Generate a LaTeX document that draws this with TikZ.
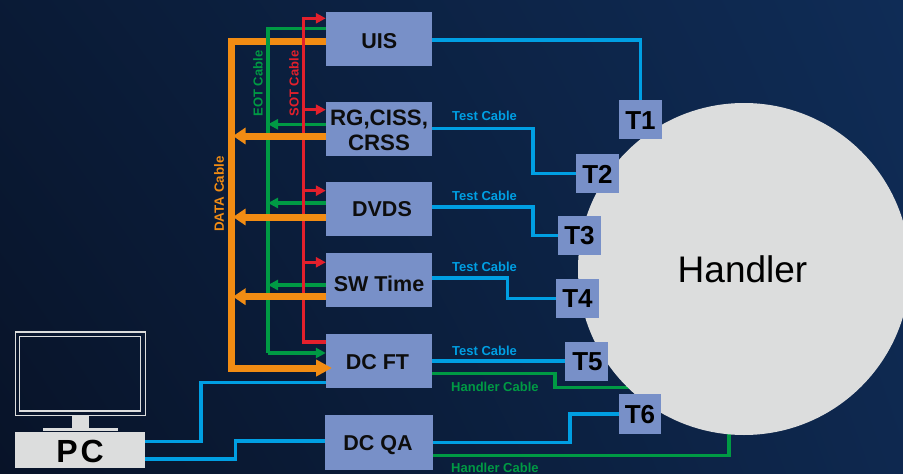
\documentclass[tikz,border=0pt]{standalone}
\usepackage{fontspec}
\setmainfont{Liberation Sans}
\usetikzlibrary{arrows.meta,calc,shadings}
\definecolor{boxblue}{HTML}{7890C8}
\definecolor{lightgrey}{HTML}{DCDDDD}
\definecolor{cableblue}{HTML}{009FE3}
\definecolor{cablegreen}{HTML}{009A44}
\definecolor{cablered}{HTML}{E3202C}
\definecolor{cableorange}{HTML}{F28C13}
\definecolor{bgA}{HTML}{081328}
\definecolor{bgB}{HTML}{0F2C56}
\newcommand{\nudge}[3]{\kern#1pt\raisebox{#2pt}[\height][\depth]{#3}}
\tikzset{
 unit/.style={fill=boxblue,draw=none,inner sep=0pt,minimum width=106pt,minimum height=54pt,align=center,font=\fontsize{21.5}{25}\selectfont\bfseries,text=black!95},
 term/.style={fill=boxblue,draw=none,inner sep=0pt,minimum width=43pt,minimum height=39pt,font=\fontsize{26}{28}\selectfont\bfseries,text=black},
 bluecable/.style={draw=cableblue,line width=3.4pt},
 greencable/.style={draw=cablegreen,line width=3.4pt},
 redcable/.style={draw=cablered,line width=3.4pt},
 orangecable/.style={draw=cableorange,line width=7pt},
 redtip/.style={-{Triangle[length=10pt,width=10pt]}},
 greentip/.style={-{Triangle[length=10pt,width=10pt]}},
 orangetip/.style={-{Triangle[length=12.5pt,width=16pt]}},
 bigorangetip/.style={-{Triangle[length=16pt,width=16pt]}},
 cablelabel/.style={inner sep=0pt,font=\fontsize{13}{15}\selectfont\bfseries},
 monitorline/.style={draw=lightgrey,line width=1.2pt,inner sep=0pt},
 greyblock/.style={fill=lightgrey,inner sep=0pt},
}
\begin{document}
\begin{tikzpicture}[x=1pt,y=-1pt]
\useasboundingbox (0,0) rectangle (903,474);
\shade[shading=bilinear interpolation,lower left=bgA,lower right=bgB!85!bgA,upper left=bgA!70!bgB,upper right=bgB] (0,0) rectangle (903,474);

% free ends of the handler cables, hidden under the disc
\coordinate (hend) at (640,387.7);
\coordinate (qend) at (729,425);
\draw[greencable] (432,373.7) -- (555,373.7) |- (hend);
\draw[greencable] (433,455.7) -| (qend);

\begin{scope}
\clip (0,0) rectangle (903,474);
\node[circle,fill=lightgrey,inner sep=0pt,minimum size=332pt] (handler) at (744,269) {};
\end{scope}
\node[font=\fontsize{37}{40}\selectfont,text=black,inner sep=0pt] (handlerlabel) at (742.5,269) {Handler};

% units
\node[unit] (uis) at (379,39) {\nudge{0.5}{-2}{UIS}};
\node[unit,font=\fontsize{22.3}{25}\selectfont\bfseries] (rg) at (379,129) {\nudge{0}{-1}{RG,CISS,}\\\nudge{0}{-1}{CRSS}};
\node[unit] (dvds) at (379,209) {\nudge{6}{0}{DVDS}};
\node[unit] (sw) at (379,280) {\nudge{0}{-4}{SW Time}};
\node[unit] (ft) at (379,361) {\nudge{-3}{-1}{DC FT}};
\node[unit,minimum width=108pt,minimum height=55pt] (qa) at (379,442.5) {\nudge{-2}{-3}{DC QA}};

% terminals
\node[term] (t1) at (640.5,119.5) {\nudge{0}{-1}{T1}};
\node[term] (t2) at (597.5,173.5) {\nudge{0}{-0.5}{T2}};
\node[term] (t3) at (579.5,235.5) {T3};
\node[term] (t4) at (577.5,298.5) {T4};
\node[term] (t5) at (586.5,361.5) {\nudge{2}{0}{T5}};
\node[term,minimum width=42pt,minimum height=40pt] (t6) at (640,414) {\nudge{0}{-1}{T6}};

% PC
\node[monitorline,minimum width=130pt,minimum height=83.5pt] (mon) at (80.2,373.8) {};
\node[monitorline,minimum width=121pt,minimum height=74.5pt] (screen) at (80.2,373.8) {};
\node[greyblock,minimum width=17pt,minimum height=13pt] (stand) at (80.5,422.5) {};
\node[greyblock,minimum width=75pt,minimum height=3pt] (base) at (80.5,429.5) {};
\node[greyblock,minimum width=130pt,minimum height=36pt,font=\fontsize{32}{35}\selectfont\bfseries,text=black] (pc) at (80,450) {\nudge{0}{-1}{P\kern3ptC}};

% cables: right side
\draw[bluecable] (uis.east |- 0,40) -| (t1.north);
\draw[bluecable] (rg.east |- 0,128.7) -- (533,128.7) |- (t2.west);
\draw[bluecable] (dvds.east |- 0,207) -- (533,207) |- (t3.west);
\draw[bluecable] (sw.east |- 0,278) -- (507.7,278) |- (t4.west);
\draw[bluecable] (ft.east |- 0,361) -- (t5.west |- 0,361);
\draw[bluecable] (qa.east |- 0,442.7) -- (570,442.7) |- (t6.west);

% PC cables
\draw[bluecable] (pc.east |- 0,441.7) -- (201,441.7) |- (ft.west |- 0,382.2);
\draw[bluecable] (pc.east |- 0,459) -- (235.7,459) |- (qa.west |- 0,441);

% left bus
\draw[orangecable,bigorangetip] (uis.west |- 0,41) -| (231,368) -- (332,368) coordinate (orangeend);
\draw[greencable] (uis.west |- 0,28.7) -| (268,353) coordinate (gcorner);
\draw[greencable,greentip] (gcorner) -- (ft.west |- 0,353);
\draw[greencable,greentip] (rg.west |- 0,124.3) -- (268,124.3);
\draw[greencable,greentip] (dvds.west |- 0,203) -- (268,203);
\draw[greencable,greentip] (sw.west |- 0,285) -- (268,285);
\draw[redcable,redtip] (ft.west |- 0,342) -| (303.3,18.3) -- (uis.west |- 0,18.3);
\draw[redcable,redtip] (303.3,109.7) -- (rg.west |- 0,109.7);
\draw[redcable,redtip] (303.3,190.7) -- (dvds.west |- 0,190.7);
\draw[redcable,redtip] (303.3,262.3) -- (sw.west |- 0,262.3);
\draw[orangecable,orangetip] (rg.west |- 0,136) -- (233,136);
\draw[orangecable,orangetip] (dvds.west |- 0,217) -- (233,217);
\draw[orangecable,orangetip] (sw.west |- 0,296.7) -- (233,296.7);

% labels
\node[cablelabel,text=cableblue,anchor=west] (l2) at (452,116.3) {Test Cable};
\node[cablelabel,text=cableblue,anchor=west] (l3) at (452,196.3) {Test Cable};
\node[cablelabel,text=cableblue,anchor=west] (l4) at (452,266.8) {Test Cable};
\node[cablelabel,text=cableblue,anchor=west] (l5) at (452,350.8) {Test Cable};
\node[cablelabel,text=cablegreen,anchor=west] (l6) at (451,387) {Handler Cable};
\node[cablelabel,text=cablegreen,anchor=west] (l7) at (451,468.2) {Handler Cable};
\node[cablelabel,text=cablegreen,rotate=90] (l8) at (258,83.5) {EOT Cable};
\node[cablelabel,text=cablered,rotate=90] (l9) at (294,83.5) {SOT Cable};
\node[cablelabel,text=cableorange,rotate=90,font=\fontsize{13.4}{15}\selectfont\bfseries] (l10) at (219,194) {DATA Cable};
\end{tikzpicture}
\end{document}
